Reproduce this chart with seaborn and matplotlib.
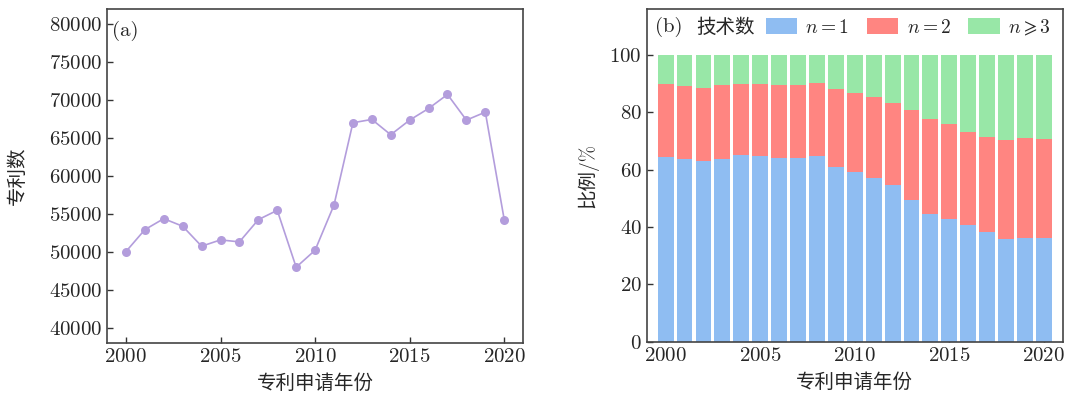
import matplotlib
matplotlib.use("Agg")
import matplotlib.pyplot as plt
from matplotlib.patches import Patch
import numpy as np
import seaborn as sns

# data
years = list(range(2000, 2021))
patents = [50040, 52930, 54380, 53380, 50750, 51580, 51320, 54250, 55480, 47980,
           50220, 56180, 67020, 67460, 65440, 67370, 68900, 70750, 67370, 68420, 54250]

# shares of patents by number of technologies (%)
share_n1 = [64.4, 63.7, 63.0, 63.7, 65.1, 64.9, 64.2, 64.2, 64.9, 60.9,
            59.3, 57.2, 54.7, 49.5, 44.7, 42.8, 40.7, 38.4, 35.8, 36.3, 36.3]
share_n2 = [25.5, 25.5, 25.5, 25.8, 24.8, 25.0, 25.3, 25.3, 25.3, 27.2,
            27.4, 28.1, 28.6, 31.4, 33.0, 33.1, 32.4, 33.0, 34.5, 34.7, 34.4]
share_n3 = [10.1, 10.8, 11.5, 10.5, 10.1, 10.1, 10.5, 10.5, 9.8, 11.9,
            13.3, 14.7, 16.7, 19.1, 22.3, 24.1, 26.9, 28.6, 29.7, 29.0, 29.3]

legend_labels = [r"$n=1$", r"$n=2$", r"$n\geqslant3$"]
colors = ["#8fbdf2", "#ff8581", "#98e7a7"]
line_color = "#b39ddc"

sns.set_style("ticks")
plt.rcParams["font.family"] = ["cmr10", "Noto Sans CJK SC", "DejaVu Sans"]
plt.rcParams["mathtext.fontset"] = "cm"
plt.rcParams["axes.formatter.use_mathtext"] = True
plt.rcParams["axes.unicode_minus"] = False
fs = 14
tfs = 15

fig = plt.figure(figsize=(10.67, 3.96), dpi=100)
ax1 = fig.add_axes([0.1003, 0.134, 0.390, 0.843])
ax2 = fig.add_axes([0.6061, 0.137, 0.390, 0.840])

# (a) patent count
sns.lineplot(x=years, y=patents, marker="o", color=line_color, linewidth=1.2,
             markersize=6.5, markeredgewidth=0, ax=ax1)
ax1.set_xlim(1999, 2021)
ax1.set_ylim(38000, 82000)
ax1.set_xticks(range(2000, 2021, 5))
ax1.set_yticks(range(40000, 80001, 5000))
ax1.set_ylabel("专利数", fontsize=fs, labelpad=16)
ax1.set_xlabel("专利申请年份", fontsize=fs, labelpad=6)
ax1.text(0.012, 0.965, "(a)", transform=ax1.transAxes, fontsize=tfs, va="top", ha="left")

# (b) stacked shares, drawn as layered cumulative bars
n1 = np.array(share_n1)
n12 = n1 + np.array(share_n2)
n123 = n12 + np.array(share_n3)
for vals, c in zip([n123, n12, n1], colors[::-1]):
    sns.barplot(x=years, y=vals, native_scale=True, color=c, saturation=1,
                width=0.84, errorbar=None, linewidth=0, ax=ax2)
ax2.set_xlim(1999, 2021)
ax2.set_ylim(0, 116)
ax2.set_xticks(range(2000, 2021, 5))
ax2.set_yticks(range(0, 101, 20))
ax2.set_ylabel("比例/%", fontsize=fs, labelpad=8)
ax2.set_xlabel("专利申请年份", fontsize=fs, labelpad=6)
ly = 0.945
ax2.text(0.02, ly, "(b)", transform=ax2.transAxes, fontsize=tfs, va="center", ha="left")
ax2.text(0.12, ly, "技术数", transform=ax2.transAxes, fontsize=fs, va="center", ha="left")
handles = [Patch(facecolor=c, edgecolor="none") for c in colors]
ax2.legend(handles, legend_labels, ncol=3, frameon=False, fontsize=fs,
           loc="center right", bbox_to_anchor=(1.0, ly),
           handlelength=1.6, handleheight=0.9, handletextpad=0.45,
           columnspacing=0.9, borderaxespad=0.2)

for ax in (ax1, ax2):
    ax.tick_params(direction="in", length=4, width=1, labelsize=tfs,
                   color="#333333", top=False, right=False)
    for s in ax.spines.values():
        s.set_visible(True)
        s.set_color("#444444")
        s.set_linewidth(1.2)

fig.savefig("out.png", dpi=100)
